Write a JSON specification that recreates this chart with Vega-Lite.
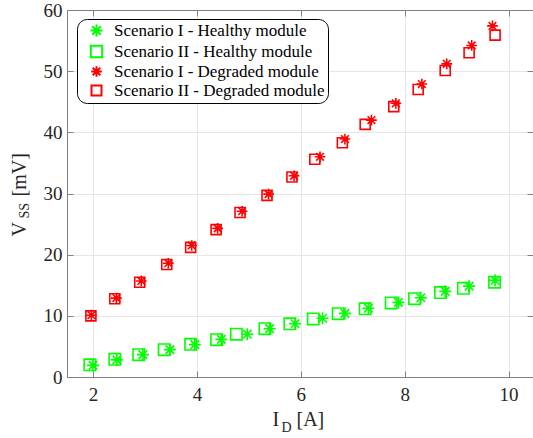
{
  "$schema": "https://vega.github.io/schema/vega-lite/v6.json",
  "width": 466,
  "height": 367,
  "autosize": {"type": "none"},
  "padding": {"left": 67, "top": 10, "right": 0, "bottom": 61},
  "background": "white",
  "data": {"values": [
    {"series": "Scenario I - Healthy module", "id": 2.0, "vss": 1.9},
    {"series": "Scenario I - Healthy module", "id": 2.46, "vss": 2.8},
    {"series": "Scenario I - Healthy module", "id": 2.96, "vss": 3.65},
    {"series": "Scenario I - Healthy module", "id": 3.48, "vss": 4.47},
    {"series": "Scenario I - Healthy module", "id": 3.96, "vss": 5.3},
    {"series": "Scenario I - Healthy module", "id": 4.47, "vss": 6.15},
    {"series": "Scenario I - Healthy module", "id": 4.97, "vss": 7.0},
    {"series": "Scenario I - Healthy module", "id": 5.4, "vss": 7.9},
    {"series": "Scenario I - Healthy module", "id": 5.89, "vss": 8.7},
    {"series": "Scenario I - Healthy module", "id": 6.42, "vss": 9.6},
    {"series": "Scenario I - Healthy module", "id": 6.85, "vss": 10.4},
    {"series": "Scenario I - Healthy module", "id": 7.3, "vss": 11.25},
    {"series": "Scenario I - Healthy module", "id": 7.88, "vss": 12.2},
    {"series": "Scenario I - Healthy module", "id": 8.31, "vss": 12.95},
    {"series": "Scenario I - Healthy module", "id": 8.78, "vss": 14.0},
    {"series": "Scenario I - Healthy module", "id": 9.24, "vss": 14.85},
    {"series": "Scenario I - Healthy module", "id": 9.74, "vss": 15.8},
    {"series": "Scenario II - Healthy module", "id": 1.94, "vss": 2.0},
    {"series": "Scenario II - Healthy module", "id": 2.42, "vss": 2.9},
    {"series": "Scenario II - Healthy module", "id": 2.88, "vss": 3.65},
    {"series": "Scenario II - Healthy module", "id": 3.37, "vss": 4.47},
    {"series": "Scenario II - Healthy module", "id": 3.88, "vss": 5.35},
    {"series": "Scenario II - Healthy module", "id": 4.38, "vss": 6.1},
    {"series": "Scenario II - Healthy module", "id": 4.76, "vss": 7.0},
    {"series": "Scenario II - Healthy module", "id": 5.31, "vss": 7.9},
    {"series": "Scenario II - Healthy module", "id": 5.79, "vss": 8.7},
    {"series": "Scenario II - Healthy module", "id": 6.24, "vss": 9.5},
    {"series": "Scenario II - Healthy module", "id": 6.72, "vss": 10.35},
    {"series": "Scenario II - Healthy module", "id": 7.24, "vss": 11.15},
    {"series": "Scenario II - Healthy module", "id": 7.74, "vss": 12.1},
    {"series": "Scenario II - Healthy module", "id": 8.19, "vss": 12.8},
    {"series": "Scenario II - Healthy module", "id": 8.69, "vss": 13.8},
    {"series": "Scenario II - Healthy module", "id": 9.13, "vss": 14.5},
    {"series": "Scenario II - Healthy module", "id": 9.73, "vss": 15.5},
    {"series": "Scenario I - Degraded module", "id": 1.97, "vss": 10.1},
    {"series": "Scenario I - Degraded module", "id": 2.45, "vss": 12.9},
    {"series": "Scenario I - Degraded module", "id": 2.93, "vss": 15.7},
    {"series": "Scenario I - Degraded module", "id": 3.45, "vss": 18.6},
    {"series": "Scenario I - Degraded module", "id": 3.9, "vss": 21.5},
    {"series": "Scenario I - Degraded module", "id": 4.4, "vss": 24.3},
    {"series": "Scenario I - Degraded module", "id": 4.87, "vss": 27.1},
    {"series": "Scenario I - Degraded module", "id": 5.38, "vss": 29.9},
    {"series": "Scenario I - Degraded module", "id": 5.87, "vss": 32.9},
    {"series": "Scenario I - Degraded module", "id": 6.37, "vss": 36.0},
    {"series": "Scenario I - Degraded module", "id": 6.85, "vss": 38.9},
    {"series": "Scenario I - Degraded module", "id": 7.36, "vss": 42.0},
    {"series": "Scenario I - Degraded module", "id": 7.83, "vss": 44.75},
    {"series": "Scenario I - Degraded module", "id": 8.33, "vss": 47.9},
    {"series": "Scenario I - Degraded module", "id": 8.81, "vss": 51.2},
    {"series": "Scenario I - Degraded module", "id": 9.29, "vss": 54.2},
    {"series": "Scenario I - Degraded module", "id": 9.69, "vss": 57.4},
    {"series": "Scenario II - Degraded module", "id": 1.96, "vss": 10.0},
    {"series": "Scenario II - Degraded module", "id": 2.42, "vss": 12.8},
    {"series": "Scenario II - Degraded module", "id": 2.9, "vss": 15.5},
    {"series": "Scenario II - Degraded module", "id": 3.42, "vss": 18.4},
    {"series": "Scenario II - Degraded module", "id": 3.88, "vss": 21.2},
    {"series": "Scenario II - Degraded module", "id": 4.37, "vss": 24.1},
    {"series": "Scenario II - Degraded module", "id": 4.83, "vss": 26.9},
    {"series": "Scenario II - Degraded module", "id": 5.35, "vss": 29.7},
    {"series": "Scenario II - Degraded module", "id": 5.83, "vss": 32.7},
    {"series": "Scenario II - Degraded module", "id": 6.27, "vss": 35.6},
    {"series": "Scenario II - Degraded module", "id": 6.8, "vss": 38.3},
    {"series": "Scenario II - Degraded module", "id": 7.24, "vss": 41.3},
    {"series": "Scenario II - Degraded module", "id": 7.79, "vss": 44.2},
    {"series": "Scenario II - Degraded module", "id": 8.26, "vss": 47.0},
    {"series": "Scenario II - Degraded module", "id": 8.78, "vss": 50.1},
    {"series": "Scenario II - Degraded module", "id": 9.24, "vss": 53.0},
    {"series": "Scenario II - Degraded module", "id": 9.74, "vss": 55.9}
  ]},
  "resolve": {"axis": {"x": "independent", "y": "independent"}},
  "layer": [
    {
      "mark": {"type": "point", "filled": false, "strokeWidth": 1.6, "opacity": 1},
      "encoding": {
        "x": {"field": "id", "type": "quantitative",
          "scale": {"domain": [1.5, 10.47], "nice": false, "zero": false},
          "axis": {"orient": "bottom", "values": [2, 4, 6, 8, 10], "tickSize": -6, "tickColor": "#808080", "domainColor": "#808080",
            "grid": true, "gridColor": "#e6e6e6", "labelFont": "Liberation Serif", "labelFontSize": 19, "labelColor": "#262626", "labelPadding": 14,
            "title": "I", "titleFont": "Liberation Serif", "titleFontSize": 20, "titleFontWeight": "normal", "titleColor": "#262626",
            "titleAlign": "left", "titleX": 205, "titleY": 48, "titleBaseline": "alphabetic"}},
        "y": {"field": "vss", "type": "quantitative",
          "scale": {"domain": [0, 60], "nice": false},
          "axis": {"orient": "left", "values": [0, 10, 20, 30, 40, 50, 60], "tickSize": -6, "tickColor": "#808080", "domainColor": "#808080",
            "grid": true, "gridColor": "#e6e6e6", "labelFont": "Liberation Serif", "labelFontSize": 19, "labelColor": "#262626", "labelPadding": 11,
            "title": "V", "titleFont": "Liberation Serif", "titleFontSize": 20, "titleFontWeight": "normal", "titleColor": "#262626",
            "titleAlign": "left", "titleAngle": 270, "titleX": -42, "titleY": 226, "titleBaseline": "alphabetic"}},
        "color": {"field": "series", "type": "nominal",
          "scale": {"domain": ["Scenario I - Healthy module", "Scenario II - Healthy module", "Scenario I - Degraded module", "Scenario II - Degraded module"],
            "range": ["#00ff00", "#00ff00", "#ff0000", "#ff0000"]},
          "legend": {"orient": "none", "legendX": 10, "legendY": 9, "title": null, "labelExpr": "datum.label + '\u00a0'"}},
        "shape": {"field": "series", "type": "nominal",
          "scale": {"domain": ["Scenario I - Healthy module", "Scenario II - Healthy module", "Scenario I - Degraded module", "Scenario II - Degraded module"],
            "range": ["M-1,0L1,0M0,-1L0,1M-0.71,-0.71L0.71,0.71M-0.71,0.71L0.71,-0.71", "square", "M-1,0L1,0M0,-1L0,1M-0.71,-0.71L0.71,0.71M-0.71,0.71L0.71,-0.71", "square"]},
          "legend": {"orient": "none", "legendX": 10, "legendY": 9, "title": null, "labelExpr": "datum.label + '\u00a0'"}},
        "size": {"field": "series", "type": "nominal",
          "scale": {"domain": ["Scenario I - Healthy module", "Scenario II - Healthy module", "Scenario I - Degraded module", "Scenario II - Degraded module"],
            "range": [144, 100, 144, 100]},
          "legend": {"orient": "none", "legendX": 10, "legendY": 9, "title": null, "labelExpr": "datum.label + '\u00a0'"}}
      }
    },
    {
      "mark": {"type": "point", "opacity": 0},
      "encoding": {
        "x": {"field": "id", "type": "quantitative",
          "axis": {"orient": "bottom", "domain": false, "ticks": false, "labels": false, "grid": false,
            "title": "D", "titleFont": "Liberation Serif", "titleFontSize": 14, "titleFontWeight": "normal", "titleColor": "#262626",
            "titleAlign": "left", "titleX": 214, "titleY": 54, "titleBaseline": "alphabetic"}},
        "y": {"field": "vss", "type": "quantitative",
          "axis": {"orient": "left", "domain": false, "ticks": false, "labels": false, "grid": false,
            "title": "SS", "titleFont": "Liberation Serif", "titleFontSize": 14, "titleFontWeight": "normal", "titleColor": "#262626",
            "titleAlign": "left", "titleAngle": 270, "titleX": -38.5, "titleY": 208, "titleBaseline": "alphabetic"}}
      }
    },
    {
      "mark": {"type": "point", "opacity": 0},
      "encoding": {
        "x": {"field": "id", "type": "quantitative",
          "axis": {"orient": "bottom", "domain": false, "ticks": false, "labels": false, "grid": false,
            "title": "[A]", "titleFont": "Liberation Serif", "titleFontSize": 20, "titleFontWeight": "normal", "titleColor": "#262626",
            "titleAlign": "left", "titleX": 229, "titleY": 48, "titleBaseline": "alphabetic"}},
        "y": {"field": "vss", "type": "quantitative",
          "axis": {"orient": "left", "domain": false, "ticks": false, "labels": false, "grid": false,
            "title": "[mV]", "titleFont": "Liberation Serif", "titleFontSize": 20, "titleFontWeight": "normal", "titleColor": "#262626",
            "titleAlign": "left", "titleAngle": 270, "titleX": -42, "titleY": 186, "titleBaseline": "alphabetic"}}
      }
    },
    {
      "mark": {"type": "point", "opacity": 0},
      "encoding": {
        "x": {"field": "id", "type": "quantitative",
          "axis": {"orient": "top", "values": [2, 4, 6, 8, 10], "tickSize": -6, "tickColor": "#808080", "domainColor": "#808080",
            "labels": false, "grid": false, "title": null}},
        "y": {"field": "vss", "type": "quantitative",
          "axis": {"orient": "right", "values": [0, 10, 20, 30, 40, 50, 60], "tickSize": -6, "tickColor": "#808080", "domain": false,
            "labels": false, "grid": false, "title": null}}
      }
    }
  ],
  "config": {"view": {"stroke": null}, "font": "Liberation Serif",
    "legend": {"fillColor": "white", "strokeColor": "black", "cornerRadius": 10, "padding": 3,
      "labelFontSize": 17, "labelFont": "Liberation Serif", "labelColor": "#000000", "symbolStrokeWidth": 2,
      "rowPadding": 0, "symbolOffset": 8, "labelOffset": 9, "labelLimit": 400}}
}
